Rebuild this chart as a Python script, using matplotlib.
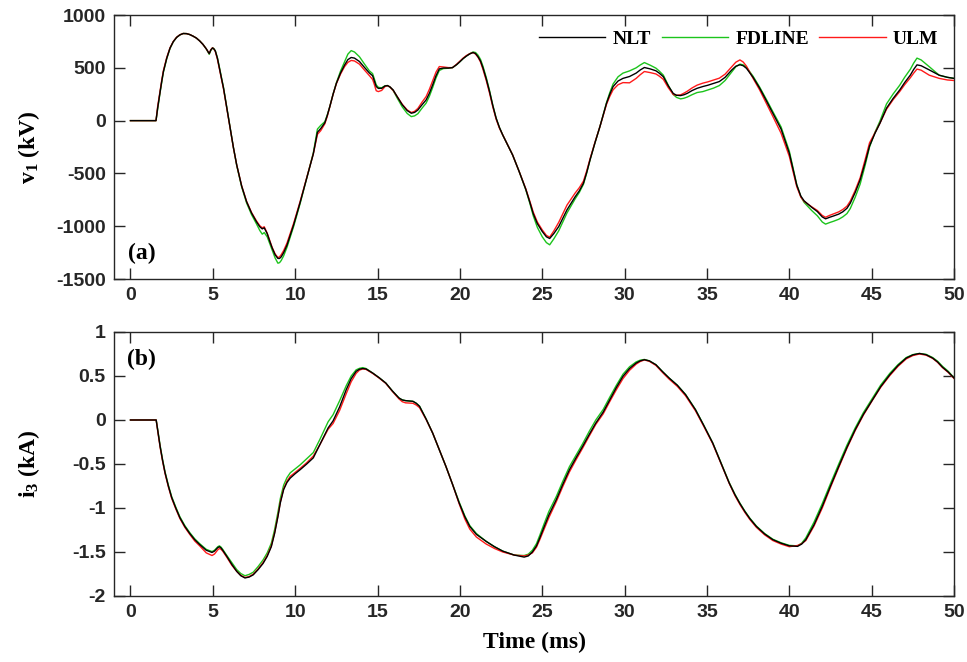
import matplotlib
matplotlib.use("Agg")
import matplotlib.pyplot as plt
from matplotlib.font_manager import FontProperties

# ---- panel (a): sending-end voltage v1 (kV) ----
t_v = [0, 1.55, 1.65, 1.8, 1.9, 2.0, 2.2, 2.4, 2.6, 2.8,
       3.0, 3.2, 3.4, 3.6, 3.8, 4.0, 4.2, 4.4, 4.6, 4.78,
       4.88, 4.98, 5.05, 5.15, 5.28, 5.4, 5.52, 5.65, 5.85, 6.05,
       6.25, 6.45, 6.75, 7.05, 7.35, 7.65, 7.85, 8.0, 8.12, 8.3,
       8.45, 8.6, 8.78, 8.95, 9.05, 9.15, 9.3, 9.5, 9.9, 10.3,
       10.7, 11.1, 11.35, 11.55, 11.8, 11.95, 12.1, 12.3, 12.5, 12.75,
       13.0, 13.2, 13.4, 13.6, 13.9, 14.2, 14.5, 14.7, 14.8, 14.92,
       15.05, 15.25, 15.45, 15.6, 15.75, 15.95, 16.2, 16.5, 16.8, 17.05,
       17.25, 17.45, 17.7, 17.95, 18.15, 18.35, 18.55, 18.75, 19.0, 19.3,
       19.55, 19.8, 20.0, 20.2, 20.4, 20.6, 20.8, 20.95, 21.1, 21.25,
       21.4, 21.6, 21.8, 22.0, 22.2, 22.4, 22.6, 22.9, 23.2, 23.6,
       24.0, 24.25, 24.45, 24.7, 25.0, 25.25, 25.45, 25.7, 26.0, 26.25,
       26.5, 27.0, 27.25, 27.5, 27.7, 27.9, 28.2, 28.5, 28.7, 28.9,
       29.1, 29.3, 29.6, 29.9, 30.3, 30.7, 30.95, 31.2, 31.55, 31.9,
       32.1, 32.35, 32.65, 32.95, 33.15, 33.4, 33.6, 33.8, 34.1, 34.4,
       34.75, 35.05, 35.4, 35.75, 36.1, 36.5, 36.75, 37.0, 37.2, 37.4,
       37.8, 38.2, 38.6, 39.0, 39.5, 40.0, 40.3, 40.45, 40.7, 40.9,
       41.35, 41.7, 42.0, 42.2, 42.45, 42.7, 43.0, 43.25, 43.5, 43.7,
       44.0, 44.3, 44.6, 44.87, 45.2, 45.5, 45.9, 46.3, 46.7, 47.0,
       47.35, 47.55, 47.75, 48.0, 48.5, 49.1, 49.6, 50.0]

v_nlt = [0, 0, 120, 275, 375, 465, 590, 686, 748, 788,
         812, 825, 824, 815, 800, 782, 755, 722, 680, 635,
         670, 688, 682, 660, 590, 500, 405, 307, 120, -73,
         -255, -420, -620, -768, -875, -958, -1005, -1025, -1015, -1070,
         -1140, -1205, -1270, -1305, -1305, -1290, -1250, -1180, -990, -775,
         -545, -315, -110, -75, -20, 50, 132, 250, 353, 450,
         527, 578, 598, 592, 560, 505, 452, 425, 380, 323,
         305, 306, 328, 332, 320, 290, 225, 150, 95, 70,
         78, 101, 150, 196, 260, 340, 425, 490, 498, 498,
         502, 530, 558, 588, 612, 632, 645, 635, 605, 565,
         500, 395, 275, 140, 23, -65, -136, -230, -325, -483,
         -650, -775, -880, -975, -1050, -1100, -1116, -1070, -1003, -925,
         -845, -720, -665, -593, -490, -372, -210, -57, 55, 164,
         250, 322, 375, 400, 418, 450, 480, 503, 490, 472,
         450, 416, 330, 258, 240, 237, 245, 258, 285, 306,
         323, 335, 353, 370, 410, 479, 515, 529, 520, 495,
         410, 307, 190, 70, -80, -309, -510, -610, -715, -760,
         -820, -861, -912, -930, -915, -902, -885, -863, -830, -782,
         -680, -561, -400, -240, -120, -25, 118, 210, 290, 360,
         432, 485, 528, 520, 480, 430, 410, 400]

v_fdline = [0, 0, 110, 270, 368, 460, 586, 684, 747, 788,
            812, 825, 824, 815, 800, 782, 755, 722, 680, 628,
            665, 688, 684, 662, 594, 505, 410, 312, 124, -70,
            -255, -425, -628, -780, -890, -978, -1040, -1075, -1060, -1100,
            -1162, -1225, -1300, -1350, -1345, -1325, -1280, -1200, -1005, -785,
            -545, -305, -80, -45, -10, 55, 132, 252, 358, 468,
            557, 630, 663, 650, 605, 537, 472, 445, 398, 338,
            315, 311, 330, 332, 318, 285, 212, 130, 68, 38,
            45, 66, 118, 166, 232, 315, 405, 475, 493, 496,
            502, 530, 558, 588, 612, 634, 650, 645, 620, 580,
            515, 408, 285, 145, 23, -65, -136, -230, -325, -483,
            -655, -785, -900, -1010, -1100, -1155, -1176, -1120, -1043, -960,
            -875, -740, -680, -603, -495, -372, -210, -57, 58, 170,
            265, 347, 415, 450, 471, 500, 527, 550, 525, 497,
            470, 431, 335, 248, 220, 206, 212, 223, 246, 266,
            275, 290, 308, 332, 380, 459, 510, 535, 528, 505,
            420, 317, 203, 85, -60, -289, -500, -605, -720, -775,
            -850, -901, -960, -980, -965, -952, -934, -911, -880, -832,
            -725, -601, -425, -250, -110, -5, 158, 252, 335, 410,
            487, 545, 592, 575, 510, 430, 410, 400]

v_ulm = [0, 0, 135, 285, 385, 475, 597, 690, 750, 790,
         813, 825, 824, 815, 800, 782, 755, 722, 680, 635,
         672, 690, 680, 655, 580, 490, 395, 298, 112, -80,
         -258, -420, -617, -765, -870, -950, -995, -1015, -1005, -1065,
         -1133, -1200, -1262, -1297, -1290, -1270, -1230, -1160, -975, -765,
         -540, -315, -130, -95, -30, 42, 132, 248, 350, 440,
         512, 552, 570, 565, 535, 480, 427, 390, 345, 283,
         275, 286, 322, 332, 318, 285, 226, 155, 101, 77,
         88, 116, 175, 228, 298, 380, 460, 512, 508, 502,
         502, 534, 563, 593, 617, 634, 645, 630, 600, 555,
         485, 380, 260, 128, 13, -72, -136, -230, -325, -483,
         -645, -765, -865, -960, -1035, -1087, -1103, -1045, -963, -882,
         -800, -685, -635, -573, -475, -362, -205, -57, 50, 154,
         230, 292, 340, 360, 358, 400, 435, 465, 455, 442,
         422, 391, 312, 248, 240, 244, 260, 278, 310, 336,
         355, 367, 385, 402, 440, 509, 553, 575, 555, 515,
         400, 290, 165, 40, -120, -339, -530, -625, -725, -765,
         -815, -851, -898, -915, -897, -882, -864, -841, -810, -762,
         -660, -541, -370, -210, -115, -25, 108, 198, 275, 340,
         407, 450, 488, 478, 430, 400, 385, 380]

# ---- panel (b): receiving-end current i3 (kA) ----
t_i = [0, 1.56, 1.68, 1.8, 1.95, 2.1, 2.3, 2.5, 2.75, 3.0,
       3.3, 3.6, 3.9, 4.2, 4.6, 4.95, 5.1, 5.2, 5.3, 5.4,
       5.5, 5.6, 5.85, 6.15, 6.45, 6.7, 6.95, 7.2, 7.45, 7.75,
       8.05, 8.3, 8.55, 8.75, 8.95, 9.1, 9.3, 9.5, 9.7, 10.0,
       10.3, 10.7, 11.1, 11.5, 12.0, 12.3, 12.7, 13.1, 13.4, 13.7,
       13.9, 14.1, 14.3, 14.7, 15.1, 15.5, 15.9, 16.3, 16.5, 16.7,
       17.15, 17.35, 17.55, 17.95, 18.35, 18.75, 19.15, 19.55, 19.95, 20.3,
       20.6, 21.0, 21.6, 22.1, 22.6, 23.3, 23.9, 24.15, 24.4, 24.65,
       24.85, 25.1, 25.4, 25.85, 26.25, 26.65, 27.05, 27.45, 27.85, 28.25,
       28.7, 29.1, 29.5, 29.9, 30.3, 30.7, 30.95, 31.2, 31.5, 31.9,
       32.3, 32.7, 33.2, 33.7, 34.3, 34.8, 35.35, 35.85, 36.35, 36.7,
       37.0, 37.3, 37.6, 38.0, 38.5, 39.0, 39.5, 40.0, 40.5, 40.75,
       41.0, 41.5, 42.0, 42.5, 43.0, 43.5, 44.0, 44.5, 45.05, 45.55,
       46.1, 46.6, 47.1, 47.5, 47.9, 48.3, 48.7, 49.0, 49.3, 49.65,
       50.0]

i_nlt = [0, 0, -0.15, -0.30, -0.46, -0.60, -0.75, -0.88, -1.00, -1.11,
         -1.21, -1.29, -1.36, -1.415, -1.48, -1.505, -1.49, -1.47, -1.45, -1.44,
         -1.455, -1.48, -1.55, -1.64, -1.72, -1.77, -1.795, -1.785, -1.76, -1.70,
         -1.63, -1.55, -1.44, -1.29, -1.10, -0.94, -0.79, -0.71, -0.66, -0.61,
         -0.565, -0.50, -0.43, -0.28, -0.09, -0.01, 0.15, 0.345, 0.47, 0.553,
         0.577, 0.585, 0.58, 0.534, 0.48, 0.42, 0.33, 0.25, 0.228, 0.22,
         0.212, 0.19, 0.155, 0.01, -0.15, -0.34, -0.527, -0.73, -0.94, -1.10,
         -1.21, -1.30, -1.38, -1.44, -1.49, -1.535, -1.558, -1.545, -1.50, -1.43,
         -1.34, -1.22, -1.08, -0.906, -0.73, -0.565, -0.43, -0.30, -0.165, -0.035,
         0.09, 0.231, 0.37, 0.496, 0.585, 0.647, 0.672, 0.685, 0.672, 0.628,
         0.55, 0.477, 0.395, 0.288, 0.117, -0.06, -0.262, -0.49, -0.716, -0.85,
         -0.95, -1.04, -1.12, -1.21, -1.295, -1.36, -1.40, -1.43, -1.436, -1.41,
         -1.36, -1.19, -0.98, -0.75, -0.527, -0.31, -0.11, 0.065, 0.231, 0.38,
         0.515, 0.62, 0.704, 0.74, 0.756, 0.742, 0.704, 0.66, 0.60, 0.545,
         0.477]

i_fdline = [0, 0, -0.14, -0.29, -0.45, -0.59, -0.74, -0.87, -0.99, -1.10,
            -1.20, -1.28, -1.35, -1.405, -1.47, -1.495, -1.48, -1.46, -1.44, -1.43,
            -1.445, -1.47, -1.54, -1.62, -1.70, -1.745, -1.77, -1.755, -1.73, -1.665,
            -1.59, -1.51, -1.40, -1.245, -1.05, -0.89, -0.74, -0.655, -0.60, -0.555,
            -0.51, -0.44, -0.37, -0.22, -0.02, 0.06, 0.22, 0.39, 0.50, 0.57,
            0.587, 0.595, 0.585, 0.534, 0.48, 0.42, 0.33, 0.25, 0.228, 0.22,
            0.212, 0.19, 0.157, 0.012, -0.15, -0.34, -0.527, -0.73, -0.93, -1.09,
            -1.20, -1.29, -1.38, -1.44, -1.49, -1.535, -1.54, -1.525, -1.48, -1.405,
            -1.31, -1.185, -1.04, -0.87, -0.695, -0.53, -0.40, -0.27, -0.13, 0.0,
            0.12, 0.26, 0.395, 0.52, 0.605, 0.66, 0.68, 0.688, 0.672, 0.628,
            0.55, 0.477, 0.395, 0.29, 0.12, -0.058, -0.26, -0.486, -0.71, -0.845,
            -0.945, -1.035, -1.115, -1.205, -1.29, -1.355, -1.395, -1.425, -1.43, -1.40,
            -1.34, -1.16, -0.95, -0.722, -0.50, -0.285, -0.09, 0.085, 0.25, 0.398,
            0.53, 0.63, 0.71, 0.743, 0.756, 0.746, 0.71, 0.668, 0.61, 0.553,
            0.48]

i_ulm = [0, 0, -0.16, -0.31, -0.47, -0.61, -0.76, -0.89, -1.01, -1.12,
         -1.22, -1.30, -1.375, -1.43, -1.51, -1.54, -1.523, -1.50, -1.475, -1.46,
         -1.47, -1.49, -1.56, -1.65, -1.72, -1.765, -1.79, -1.78, -1.752, -1.692,
         -1.62, -1.54, -1.43, -1.28, -1.09, -0.93, -0.78, -0.695, -0.64, -0.595,
         -0.55, -0.485, -0.41, -0.28, -0.105, -0.04, 0.11, 0.30, 0.435, 0.53,
         0.567, 0.58, 0.575, 0.53, 0.476, 0.416, 0.325, 0.24, 0.208, 0.195,
         0.19, 0.17, 0.14, 0.005, -0.15, -0.34, -0.527, -0.73, -0.95, -1.125,
         -1.24, -1.33, -1.41, -1.46, -1.50, -1.535, -1.545, -1.535, -1.51, -1.445,
         -1.36, -1.245, -1.11, -0.93, -0.755, -0.59, -0.452, -0.32, -0.183, -0.05,
         0.07, 0.21, 0.345, 0.47, 0.565, 0.635, 0.665, 0.682, 0.667, 0.62,
         0.54, 0.465, 0.382, 0.275, 0.105, -0.07, -0.27, -0.496, -0.72, -0.86,
         -0.96, -1.05, -1.13, -1.22, -1.305, -1.37, -1.41, -1.44, -1.426, -1.405,
         -1.37, -1.205, -1.00, -0.765, -0.54, -0.32, -0.12, 0.057, 0.225, 0.372,
         0.505, 0.61, 0.695, 0.732, 0.75, 0.737, 0.70, 0.655, 0.595, 0.54,
         0.472]

series_names = ["NLT", "FDLINE", "ULM"]
series_colors = ["#000000", "#1cc41c", "#ff1a1a"]
series_z = [4, 2, 3]

x_ticks = list(range(0, 51, 5))
v_ticks = [-1500, -1000, -500, 0, 500, 1000]
i_ticks = [-2, -1.5, -1, -0.5, 0, 0.5, 1]
i_tick_labels = ["-2", "-1.5", "-1", "-0.5", "0", "0.5", "1"]

plt.rcParams.update({
    "axes.unicode_minus": False,
    "mathtext.fontset": "custom",
    "mathtext.rm": "Liberation Serif:bold",
    "mathtext.it": "Liberation Serif:bold",
    "mathtext.bf": "Liberation Serif:bold",
})

tick_font = {"family": "Liberation Sans", "weight": "bold", "size": 14}
label_font = {"family": "Liberation Serif", "weight": "bold", "size": 17}
frame_color = "#262626"

fig = plt.figure(figsize=(9.67, 6.62), dpi=100)
ax_v = fig.add_axes([0.1179, 0.5785, 0.8687, 0.3988])
ax_i = fig.add_axes([0.1179, 0.0997, 0.8687, 0.3988])


def style_axes(ax):
    ax.set_xlim(-1, 50)
    ax.set_xticks(x_ticks)
    ax.tick_params(direction="in", length=8, width=1, top=True, right=True,
                   colors=frame_color, pad=6)
    for lab in ax.get_xticklabels() + ax.get_yticklabels():
        lab.set_fontproperties(FontProperties(**tick_font))
        lab.set_color(frame_color)
    for sp in ax.spines.values():
        sp.set_color(frame_color)
        sp.set_linewidth(1.0)


# panel (a)
lines = []
for vals, name, col, z in zip([v_nlt, v_fdline, v_ulm], series_names, series_colors, series_z):
    ln, = ax_v.plot(t_v, vals, color=col, lw=1.0, label=name, zorder=z)
    lines.append(ln)
ax_v.set_ylim(-1500, 1000)
ax_v.set_yticks(v_ticks)
ax_v.set_yticklabels([str(v) for v in v_ticks])
style_axes(ax_v)
ax_v.set_ylabel(r"v$_1$ (kV)", fontdict=label_font)
ax_v.yaxis.set_label_coords(-0.086, 0.5)
ax_v.text(0.017, 0.055, "(a)", transform=ax_v.transAxes, ha="left", va="bottom",
          fontdict=label_font)
ax_v.legend(handles=lines, loc="upper right", ncol=3, frameon=False,
            prop={"family": "Liberation Serif", "weight": "bold", "size": 14},
            handlelength=3.4, handletextpad=0.38, columnspacing=0.55,
            borderaxespad=0.4, borderpad=0.4)

# panel (b)
for vals, name, col, z in zip([i_nlt, i_fdline, i_ulm], series_names, series_colors, series_z):
    ax_i.plot(t_i, vals, color=col, lw=1.0, label=name, zorder=z)
ax_i.set_ylim(-2, 1)
ax_i.set_yticks(i_ticks)
ax_i.set_yticklabels(i_tick_labels)
style_axes(ax_i)
ax_i.set_ylabel(r"i$_3$ (kA)", fontdict=label_font)
ax_i.yaxis.set_label_coords(-0.086, 0.5)
ax_i.set_xlabel("Time (ms)", fontdict=label_font)
ax_i.xaxis.set_label_coords(0.5, -0.135)
ax_i.text(0.015, 0.935, "(b)", transform=ax_i.transAxes, ha="left", va="top",
          fontdict=label_font)

fig.savefig("out.png", dpi=100)
